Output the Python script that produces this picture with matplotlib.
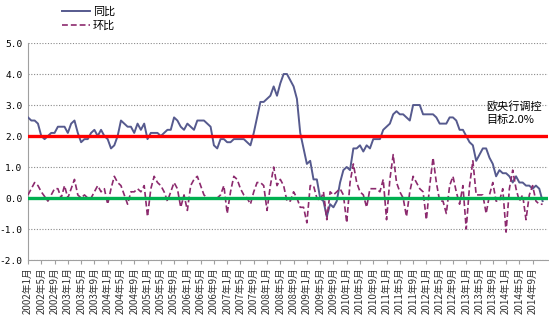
import matplotlib
matplotlib.use('agg')
import matplotlib.pyplot as plt
import numpy as np

plt.rcParams['font.family'] = ['Noto Sans CJK SC', 'DejaVu Sans']

# monthly data, 2002-01 .. 2014-12
years = list(range(2002, 2015))
months = ['{}年{}月'.format(y, m) for y in years for m in range(1, 13)]

yoy = [2.6, 2.5, 2.5, 2.4, 2.0, 1.9, 2.0, 2.1, 2.1, 2.3, 2.3, 2.3,
       2.1, 2.4, 2.5, 2.1, 1.8, 1.9, 1.9, 2.1, 2.2, 2.0, 2.2, 2.0,
       1.9, 1.6, 1.7, 2.0, 2.5, 2.4, 2.3, 2.3, 2.1, 2.4, 2.2, 2.4,
       1.9, 2.1, 2.1, 2.1, 2.0, 2.1, 2.2, 2.2, 2.6, 2.5, 2.3, 2.2,
       2.4, 2.3, 2.2, 2.5, 2.5, 2.5, 2.4, 2.3, 1.7, 1.6, 1.9, 1.9,
       1.8, 1.8, 1.9, 1.9, 1.9, 1.9, 1.8, 1.7, 2.1, 2.6, 3.1, 3.1,
       3.2, 3.3, 3.6, 3.3, 3.7, 4.0, 4.0, 3.8, 3.6, 3.2, 2.1, 1.6,
       1.1, 1.2, 0.6, 0.6, 0.0, -0.1, -0.6, -0.2, -0.3, -0.1, 0.5, 0.9,
       1.0, 0.9, 1.6, 1.6, 1.7, 1.5, 1.7, 1.6, 1.9, 1.9, 1.9, 2.2,
       2.3, 2.4, 2.7, 2.8, 2.7, 2.7, 2.6, 2.5, 3.0, 3.0, 3.0, 2.7,
       2.7, 2.7, 2.7, 2.6, 2.4, 2.4, 2.4, 2.6, 2.6, 2.5, 2.2, 2.2,
       2.0, 1.8, 1.7, 1.2, 1.4, 1.6, 1.6, 1.3, 1.1, 0.7, 0.9, 0.8,
       0.8, 0.7, 0.5, 0.7, 0.5, 0.5, 0.4, 0.4, 0.3, 0.4, 0.3, -0.1]

mom = [0.1, 0.3, 0.5, 0.4, 0.2, 0.05, -0.1, 0.1, 0.3, 0.3, 0.0, 0.4,
       0.0, 0.3, 0.6, 0.1, 0.0, 0.1, 0.0, 0.0, 0.2, 0.4, 0.2, 0.3,
       -0.2, 0.3, 0.7, 0.5, 0.4, 0.1, -0.2, 0.2, 0.2, 0.3, 0.2, 0.4,
       -0.6, 0.3, 0.7, 0.5, 0.4, 0.2, -0.1, 0.2, 0.5, 0.3, -0.3, 0.1,
       -0.4, 0.4, 0.6, 0.7, 0.4, 0.1, 0.0, 0.0, 0.0, 0.0, 0.1, 0.4,
       -0.5, 0.2, 0.7, 0.6, 0.3, 0.1, 0.0, -0.2, 0.2, 0.5, 0.5, 0.4,
       -0.4, 0.4, 1.0, 0.4, 0.6, 0.4, -0.1, -0.1, 0.2, 0.0, -0.3, -0.3,
       -0.8, 0.4, 0.4, 0.0, -0.1, 0.2, -0.7, 0.2, 0.1, 0.2, 0.3, 0.1,
       -0.8, 0.5, 1.1, 0.5, 0.2, 0.1, -0.3, 0.3, 0.3, 0.3, 0.2, 0.6,
       -0.7, 0.6, 1.4, 0.5, 0.2, 0.0, -0.6, 0.2, 0.7, 0.5, 0.3, 0.2,
       -0.7, 0.4, 1.3, 0.5, -0.1, -0.1, -0.5, 0.4, 0.7, 0.2, -0.2, 0.4,
       -1.0, 0.4, 1.2, 0.1, 0.1, 0.1, -0.5, 0.1, 0.5, -0.1, -0.1, 0.3,
       -1.1, 0.3, 0.9, 0.3, -0.1, 0.1, -0.7, 0.1, 0.4, -0.1, -0.2, -0.2]

target = 2.0

x = np.arange(len(months))

fig = plt.figure(figsize=(5.49, 3.31), dpi=100)
ax = fig.add_axes([0.051, 0.2145, 0.947, 0.6555])

ax.plot(x, yoy, color='#565a8e', lw=1.4, label='同比', zorder=3)
ax.plot(x, mom, color='#8c2a6e', lw=1.2, ls=(0, (3.5, 1.8)), label='环比', zorder=3)
ax.axhline(target, color='#ff0000', lw=2.4, zorder=4)
ax.axhline(0, color='#00b050', lw=2.4, zorder=4)

ax.set_xlim(0, 156.6)
ax.set_ylim(-2, 5)
ax.set_yticks(np.arange(-2, 6, 1))
ax.set_yticklabels(['{:.1f}'.format(v) for v in np.arange(-2, 6, 1)],
                   family='DejaVu Sans Mono', fontsize=6.8)
ax.yaxis.grid(True, color='#8a8a8a', ls=(0, (1, 1.5)), lw=0.8)
ax.tick_params(axis='y', length=0, pad=4)

ax.set_xticks(x[::4])
ax.set_xticklabels(months[::4], rotation=90, fontsize=7, color='#333333')
ax.tick_params(axis='x', length=3, color='#a0a0a0', pad=2)

for s in ['top', 'right']:
    ax.spines[s].set_visible(False)
ax.spines['left'].set_color('#a0a0a0')
ax.spines['bottom'].set_color('#a0a0a0')

ax.text(138, 2.75, '欧央行调控\n目标2.0%', fontsize=8, va='center', ha='left',
        linespacing=1.5)

ax.legend(loc='upper left', bbox_to_anchor=(0.1, 1.0), bbox_transform=fig.transFigure,
          frameon=False, fontsize=8, handlelength=2.6, handletextpad=0.2,
          labelspacing=0.3, borderaxespad=0.2)

plt.savefig('out.png', dpi=100)
plt.close()
